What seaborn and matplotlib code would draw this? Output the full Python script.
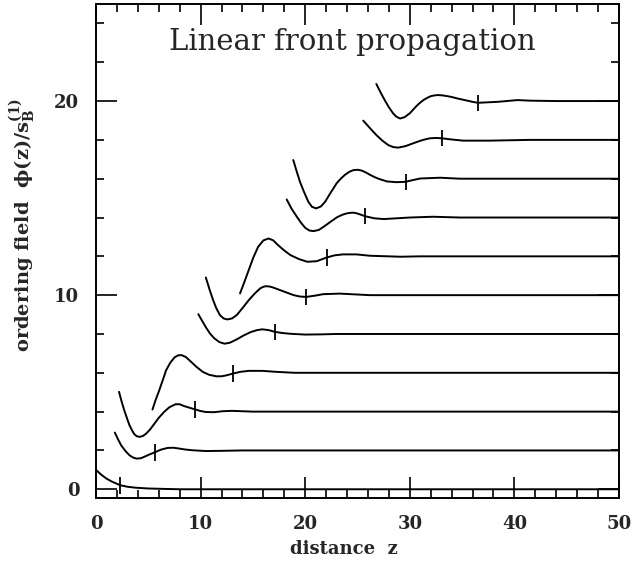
import matplotlib
matplotlib.use("Agg")
import matplotlib.pyplot as plt
from matplotlib.ticker import MultipleLocator
import seaborn as sns
import pandas as pd

# curves: (z, phi) for each front, offset by 2
levels = [0, 2, 4, 6, 8, 10, 12, 14, 16, 18, 20]

z0 = [0, 0.5, 1.0, 1.5, 2.3, 3.0, 3.8, 5.0, 6.4, 8, 50]
p0 = [1.0, 0.75, 0.55, 0.40, 0.21, 0.13, 0.08, 0.04, 0.02, 0.0, 0.0]

z2 = [1.8, 2.1, 2.4, 2.8, 3.2, 3.6, 3.9, 4.3, 4.6, 5.1, 5.6, 6.2, 6.85, 7.4, 7.8,
      8.5, 9.2, 10.5, 12, 14, 50]
p2 = [2.92, 2.58, 2.27, 1.98, 1.75, 1.62, 1.58, 1.60, 1.67, 1.79, 1.90, 2.04, 2.13,
      2.14, 2.11, 2.05, 2.01, 1.97, 1.98, 2.0, 2.0]

z4 = [2.2, 2.45, 2.7, 3.0, 3.2, 3.45, 3.66, 3.9, 4.2, 4.5, 4.8, 5.2, 5.6, 6.0, 6.5,
      7.0, 7.6, 8.0, 8.4, 9.0, 9.5, 10.0, 10.5, 11.3, 12.1, 13, 15, 50]
p4 = [5.02, 4.52, 4.07, 3.60, 3.30, 3.03, 2.84, 2.73, 2.70, 2.75, 2.87, 3.10, 3.39,
      3.68, 3.98, 4.22, 4.38, 4.38, 4.29, 4.19, 4.11, 4.03, 3.98, 3.97, 4.02, 4.04,
      4.0, 4.0]

z6 = [5.4, 5.7, 6.05, 6.4, 6.7, 7.1, 7.5, 7.85, 8.2, 8.6, 9.1, 9.6, 10.2, 10.8,
      11.5, 12.0, 12.4, 13.1, 13.8, 14.6, 15.9, 17.2, 19, 50]
p6 = [4.11, 4.6, 5.10, 5.65, 6.13, 6.52, 6.79, 6.90, 6.91, 6.81, 6.56, 6.31, 6.05,
      5.90, 5.82, 5.82, 5.86, 5.96, 6.05, 6.10, 6.10, 6.05, 6.0, 6.0]

z8 = [9.78, 10.1, 10.5, 10.9, 11.3, 11.8, 12.3, 12.8, 13.45, 14.1, 14.8, 15.4,
      15.9, 16.5, 17.1, 17.8, 18.6, 20, 21.5, 23, 50]
p8 = [9.02, 8.72, 8.35, 8.02, 7.78, 7.58, 7.50, 7.55, 7.72, 7.92, 8.1, 8.2, 8.24,
      8.2, 8.11, 8.05, 8.01, 7.97, 7.98, 8.0, 8.0]

z10 = [10.5, 10.85, 11.2, 11.5, 11.85, 12.2, 12.56, 13.0, 13.45, 14.0, 14.6, 15.2,
       15.7, 15.95, 16.2, 16.55, 16.9, 17.6, 18.3, 18.9, 19.5, 20.1, 21.0, 21.7,
       23.3, 26.2, 50]
p10 = [10.91, 10.3, 9.74, 9.33, 8.97, 8.80, 8.75, 8.80, 8.97, 9.33, 9.74, 10.1,
       10.35, 10.42, 10.46, 10.45, 10.40, 10.26, 10.12, 10.0, 9.93, 9.91, 9.98,
       10.05, 10.08, 10.0, 10.0]

z12 = [13.77, 14.2, 14.6, 15.05, 15.5, 16.0, 16.5, 16.95, 17.4, 18.0, 18.6, 19.4,
       20.2, 21.1, 22.05, 22.8, 23.6, 24.9, 26.2, 29.1, 31, 50]
p12 = [10.09, 10.7, 11.29, 11.95, 12.49, 12.82, 12.92, 12.82, 12.58, 12.3, 12.06,
       11.86, 11.72, 11.75, 11.94, 12.05, 12.1, 12.1, 12.03, 11.98, 12.0, 12.0]

z14 = [18.23, 18.7, 19.2, 19.6, 20.0, 20.4, 20.8, 21.3, 21.75, 22.4, 23.0, 23.3,
       23.6, 23.95, 24.3, 24.6, 24.9, 25.3, 25.7, 26.6, 27.5, 30.0, 32.2, 34.8, 50]
p14 = [14.93, 14.45, 14.04, 13.73, 13.47, 13.33, 13.30, 13.36, 13.52, 13.77, 14.0,
       14.08, 14.15, 14.21, 14.24, 14.25, 14.22, 14.15, 14.07, 13.96, 13.92, 14.0,
       14.04, 14.0, 14.0]

z16 = [18.86, 19.2, 19.5, 19.9, 20.3, 20.65, 21.05, 21.5, 21.9, 22.4, 23.0, 23.4,
       23.8, 24.2, 24.6, 25.0, 25.4, 25.8, 26.2, 26.6, 27.0, 27.8, 28.7, 29.6,
       30.3, 31.0, 32.9, 34.8, 50]
p16 = [16.96, 16.35, 15.84, 15.3, 14.81, 14.55, 14.47, 14.57, 14.81, 15.25, 15.76,
       16.0, 16.2, 16.35, 16.44, 16.46, 16.42, 16.32, 16.2, 16.09, 16.0, 15.86,
       15.82, 15.84, 15.93, 16.01, 16.05, 16.0, 16.0]

z18 = [25.55, 26.2, 26.8, 27.4, 27.95, 28.4, 28.9, 29.6, 30.3, 31.1, 31.5, 31.9,
       32.5, 33.1, 34.0, 35.1, 37.6, 41.5, 50]
p18 = [18.99, 18.6, 18.25, 17.95, 17.73, 17.63, 17.60, 17.68, 17.82, 17.97, 18.03,
       18.08, 18.1, 18.08, 18.02, 17.96, 17.96, 18.0, 18.0]

z20 = [26.8, 27.2, 27.6, 28.0, 28.4, 28.7, 29.07, 29.5, 30.0, 30.6, 30.95, 31.3,
       31.65, 32.0, 32.35, 32.7, 33.15, 33.6, 34.0, 34.5, 35.0, 35.5, 36.0, 36.5,
       38.4, 40.3, 41.5, 44, 50]
p20 = [20.88, 20.45, 20.05, 19.68, 19.37, 19.2, 19.1, 19.17, 19.37, 19.72, 19.9,
       20.05, 20.16, 20.25, 20.29, 20.31, 20.29, 20.25, 20.21, 20.14, 20.08, 20.02,
       19.96, 19.91, 19.96, 20.05, 20.02, 20.0, 20.0]

# front position markers on each curve
tick_z = [2.3, 5.6, 9.5, 13.1, 17.1, 20.1, 22.05, 25.7, 29.6, 33.1, 36.5]
tick_phi = [0.2, 1.9, 4.11, 5.96, 8.11, 9.91, 11.94, 14.07, 15.84, 18.08, 19.91]

zs = [z0, z2, z4, z6, z8, z10, z12, z14, z16, z18, z20]
ps = [p0, p2, p4, p6, p8, p10, p12, p14, p16, p18, p20]

frames = []
for lev, z, p in zip(levels, zs, ps):
    frames.append(pd.DataFrame({"z": z, "phi": p, "level": lev}))
df = pd.concat(frames, ignore_index=True)

sns.set_style("ticks")
plt.rcParams["font.family"] = ["DejaVu Serif"]
plt.rcParams["mathtext.fontset"] = "dejavuserif"

fig = plt.figure(figsize=(6.34, 5.63), dpi=100)
ax = fig.add_axes([96 / 634, 1 - 498 / 563, 523 / 634, 494 / 563])

sns.lineplot(data=df, x="z", y="phi", units="level", estimator=None,
             color="black", linewidth=1.4, sort=False, ax=ax, legend=False)

half = 0.42
ax.vlines(tick_z, [t - half for t in tick_phi], [t + half for t in tick_phi],
          color="black", linewidth=1.3)

ax.set_xlim(0, 50)
ax.set_ylim(-0.45, 25)
ax.xaxis.set_major_locator(MultipleLocator(10))
ax.xaxis.set_minor_locator(MultipleLocator(2))
ax.yaxis.set_major_locator(MultipleLocator(10))
ax.yaxis.set_minor_locator(MultipleLocator(2))
ax.tick_params(which="both", direction="in", top=True, right=True,
               color="black", width=1.2)
ax.tick_params(which="major", length=15, pad=12, labelsize=13)
ax.tick_params(which="minor", length=6)
for lab in ax.get_xticklabels() + ax.get_yticklabels():
    lab.set_fontweight("bold")
for sp in ax.spines.values():
    sp.set_linewidth(1.4)
    sp.set_color("black")

ax.set_xlabel("distance  z", fontsize=13, fontweight="bold")
ax.xaxis.set_label_coords(0.474, -0.085)
ax.set_ylabel(r"ordering field  $\mathbf{\phi(z)/s_B^{(1)}}$", fontsize=14,
              fontweight="bold")
ax.yaxis.set_label_coords(-0.11, 0.553)

ax.text(0.49, 0.923, "Linear front propagation", transform=ax.transAxes,
        ha="center", va="center", fontsize=21)

fig.savefig("out.png", dpi=100)
